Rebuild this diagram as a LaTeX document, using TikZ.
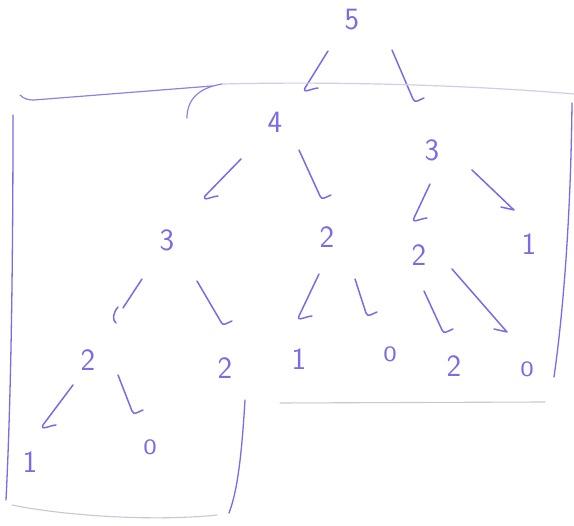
\documentclass[tikz,border=0pt]{standalone}
\usepackage{fontspec}
\usetikzlibrary{calc}
\definecolor{penc}{RGB}{122,108,228}
\definecolor{boxmc}{RGB}{140,130,226}
\definecolor{boxfc}{RGB}{208,206,232}
\definecolor{boxgc}{RGB}{200,200,210}
% "/" arrow, barb to the right
\newcommand\arrS[4]{\draw[pen] ($(#1)+(#2)$) -- ($(#3)+(#4)$) to[out=-115,in=185,looseness=1.3] ++(13,0);}
% "\" arrow, rounded cup to the right
\newcommand\arrB[4]{\draw[pen] ($(#1)+(#2)$) -- ($(#3)+(#4)$) to[out=-70,in=200,looseness=1.2] ++(11,1);}
% "\" arrow, barb to the left
\newcommand\arrL[4]{\draw[pen] ($(#1)+(#2)$) -- ($(#3)+(#4)$) -- ++(-13,3);}
\begin{document}
\begin{tikzpicture}[x=1pt,y=1pt,
  pen/.style={draw=penc, line width=1.5pt, line cap=round, line join=round},
  dig/.style={text=penc, font=\sffamily\fontsize{31}{31}\selectfont, inner sep=0pt},
  zero/.style={text=penc, font=\sffamily\fontsize{22}{22}\selectfont, inner sep=0pt, xscale=1.3, transform shape},
  boxv/.style={draw=penc, line width=1.3pt, line cap=round},
  boxm/.style={draw=boxmc, line width=1.2pt, line cap=round},
  boxf/.style={draw=boxfc, line width=1.2pt, line cap=round},
  boxg/.style={draw=boxgc, line width=1.1pt, line cap=round}]
\fill[white] (0,0) rectangle (574,-526);
\useasboundingbox (0,0) rectangle (574,-526);
% nodes
\node[dig] (n5)   at (352,-20)  {5};
\node[dig] (n4)   at (275,-122) {4};
\node[dig] (n3r)  at (432,-150) {3};
\node[dig] (n3l)  at (167,-240) {3};
\node[dig] (n2m)  at (327,-237) {2};
\node[dig] (n2r)  at (419,-255) {2};
\node[dig] (n1r)  at (529,-244) {1};
\node[dig] (n2ll) at (88,-360)  {2};
\node[dig] (n2lr) at (225,-368) {2};
\node[dig] (n1m)  at (299,-359) {1};
\node[zero] (n0m)  at (390,-354) {0};
\node[dig] (n2rr) at (454,-366) {2};
\node[zero] (n0rr) at (527,-369) {0};
\node[dig] (n1b)  at (30,-462)  {1};
\node[zero] (n0b)  at (150,-447) {0};
% arrows
\arrS{n5}{-24,-31}{n4}{30,34}
\arrB{n5}{40,-30}{n3r}{-19,51}
\arrS{n4}{-34,-37}{n3l}{38,44}
\arrB{n4}{24,-28}{n2m}{-7,41}
\arrS{n3r}{-2,-34}{n2r}{-5,37}
\arrL{n3r}{40,-20}{n1r}{-15,34}
\draw[pen] ($(n3l)+(-25,-39)$) -- ($(n2ll)+(35,52)$);
\draw[pen] ($(n2ll)+(30,53)$) .. controls ($(n2ll)+(25,47)$) and ($(n2ll)+(24,40)$) .. ($(n2ll)+(28,37)$);
\arrB{n3l}{30,-41}{n2lr}{-4,46}
\arrS{n2m}{-8,-37}{n1m}{0,43}
\arrB{n2m}{28,-42}{n0m}{-24,41}
\arrB{n2r}{5,-36}{n2rr}{-12,36}
\arrL{n2r}{33,-14}{n0rr}{-20,37}
\arrS{n2ll}{-15,-25}{n1b}{13,37}
\arrB{n2ll}{30,-15}{n0b}{-18,36}
% left box
\draw[boxm] (20,-95) .. controls (24,-99) and (28,-100) .. (34,-100) -- (212,-86);
\draw[boxv] (13,-115) .. controls (13,-300) and (10,-420) .. (6,-500);
\draw[boxg] (12,-505) .. controls (60,-515) and (150,-522) .. (217,-515);
\draw[boxv] (245,-400) .. controls (242,-450) and (238,-490) .. (229,-513);
% right box
\draw[boxm] (187,-118) .. controls (187,-100) and (198,-88) .. (222,-84);
\draw[boxf] (222,-84) .. controls (350,-81) and (480,-86) .. (574,-94);
\draw[boxv] (572,-103) .. controls (571,-200) and (565,-300) .. (554,-377);
\draw[boxg] (280,-403) -- (545,-402);
\end{tikzpicture}
\end{document}
